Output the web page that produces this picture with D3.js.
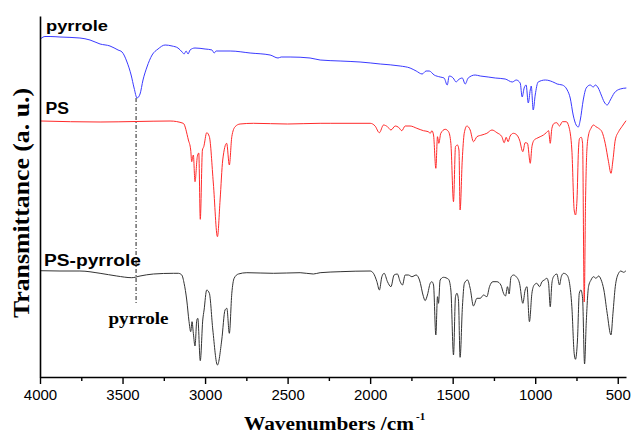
<!DOCTYPE html>
<html>
<head>
<meta charset="utf-8">
<script src="https://cdn.jsdelivr.net/npm/d3@7"></script>
<style>
  html, body { margin: 0; padding: 0; background: #fff; }
  svg { display: block; }
</style>
</head>
<body>
<svg id="chart" width="631" height="434"></svg>
<script>
// ---- data (wavenumber cm^-1, transmittance a.u. with stacking offset) ----
const seriesNames = ["pyrrole", "PS", "PS-pyrrole"];
const seriesColors = ["#3a3aff", "#ff2a2a", "#333333"];

const pyrrole = [[3994,338.5],[3970,340.5],[3939,340.5],[3879,340],[3758,339],[3697,337],[3636,333],[3576,331],[3527,327],[3503,325],[3473,315],[3448,302],[3430,289],[3412,279],[3394,283],[3376,297],[3352,310],[3321,322],[3285,328],[3242,332],[3200,331],[3164,329],[3139,325],[3127,323],[3115,326],[3103,323],[3091,327],[3061,329],[3000,328],[2958,327],[2945,324],[2933,326],[2848,326],[2727,324],[2606,322],[2558,319],[2539,320],[2485,320],[2364,319],[2303,317],[2182,316],[2061,315],[1939,313],[1818,311],[1758,309],[1721,306],[1685,303],[1661,306],[1642,306],[1612,302],[1576,300],[1552,299],[1533,292],[1521,301],[1497,299],[1479,295],[1467,297],[1442,299],[1424,293],[1406,299],[1364,302],[1333,301],[1285,300],[1242,299],[1182,298],[1139,295],[1115,297],[1091,294],[1079,280],[1067,289],[1055,292],[1042,274],[1030,287],[1024,291],[1012,267],[1000,282],[982,295],[939,297],[879,294],[867,293],[836,292],[806,287],[788,279],[770,262],[752,252],[739,250],[727,257],[709,277],[691,289],[667,292],[648,290],[636,292],[618,289],[600,282],[582,275],[564,272],[545,277],[521,284],[485,288],[448,289]];

const ps = [[3994,256],[3636,255],[3418,255.5],[3212,256],[3132,253.7],[3101,237],[3087,227],[3081,215.3],[3071,222],[3061,195.3],[3047,220.3],[3038,224],[3029,157.7],[3016,227],[3008,230.3],[2990,244.3],[2974,240.3],[2950,194],[2925,140.3],[2909,177],[2893,217],[2869,233.7],[2853,212],[2838,240.3],[2818,250.3],[2788,253],[2707,253.7],[2500,253],[2303,253.7],[2242,253.7],[2000,253.7],[1970,251],[1944,244.3],[1919,252],[1895,250.3],[1874,247],[1848,251],[1828,249.7],[1808,246.3],[1788,251],[1758,251],[1717,248.7],[1677,246.3],[1647,245.3],[1636,243.7],[1626,246.3],[1616,242],[1602,208.7],[1592,240.3],[1584,233.7],[1572,243.7],[1545,247.7],[1525,245.3],[1511,233.7],[1495,175.3],[1483,230.3],[1471,232],[1462,227],[1455,167],[1442,217],[1430,243.7],[1414,251],[1394,247],[1374,235.3],[1353,240.3],[1323,242],[1293,243.7],[1262,247],[1232,244.3],[1202,240.3],[1188,234.3],[1176,239.7],[1164,235.3],[1152,241],[1132,243.7],[1111,242],[1095,237],[1075,225.3],[1061,234.3],[1047,233.7],[1030,213.7],[1020,230.3],[1006,237],[990,238.7],[970,240.3],[950,242],[933,244.3],[919,246.3],[909,233.7],[899,248.7],[885,253.7],[869,254.3],[853,251],[835,255.3],[812,255.3],[796,250.3],[778,227],[764,167],[756,162],[747,177],[738,227],[731,238.7],[721,239.7],[713,233.7],[703,75],[695,177],[687,227],[677,242],[662,248.7],[647,252],[632,250.3],[616,248.7],[596,245.3],[576,233.7],[556,215.3],[541,203.7],[529,217],[515,237],[495,245.3],[475,250.3],[450,256.3]];

const psPyrrole = [[4000,106.3],[3879,106],[3758,106],[3636,103.7],[3535,101],[3444,99.3],[3394,101],[3313,103],[3192,103.7],[3162,103.7],[3141,102],[3127,93.7],[3111,77],[3097,55.3],[3087,45.3],[3079,55.3],[3071,43.7],[3061,31],[3050,57],[3044,58.7],[3029,16.3],[3014,57],[3006,67],[2990,87],[2974,83.7],[2953,47],[2925,12],[2899,37],[2879,67],[2868,68.7],[2853,43.7],[2838,83.7],[2824,98.7],[2798,103],[2747,104.3],[2586,103.7],[2424,104.3],[2344,103],[2303,104.3],[2182,105.3],[2000,106],[1980,103.7],[1959,95.3],[1944,87],[1929,100.3],[1915,103.7],[1895,95.3],[1874,90.3],[1855,102],[1835,103],[1818,95.3],[1804,92],[1788,102],[1768,102],[1747,100.3],[1721,102],[1701,97],[1677,80.3],[1667,76.3],[1653,82],[1636,93.7],[1626,95.3],[1616,92],[1602,42],[1592,80.3],[1586,73.7],[1576,97],[1556,99.7],[1525,97.7],[1511,87],[1495,22],[1483,80.3],[1474,83.7],[1465,77],[1455,19.7],[1441,70.3],[1429,93.7],[1410,97],[1394,88.7],[1374,71],[1353,78.7],[1333,78.7],[1313,82],[1293,80.3],[1277,90.3],[1256,95.3],[1232,95.3],[1208,92],[1192,83.7],[1180,81],[1168,90.3],[1158,83],[1147,99.7],[1132,102],[1115,100.3],[1095,93.7],[1075,73.7],[1061,87],[1050,90.3],[1035,55.3],[1020,83.7],[1006,92],[990,93.7],[974,90.3],[959,95.3],[945,97],[929,98.7],[919,93.7],[909,70.3],[899,93.7],[889,100.3],[869,103],[853,92],[842,100.3],[828,103.7],[808,102],[792,93.7],[778,70.3],[764,23.7],[756,17.7],[744,37],[733,83.7],[723,87],[713,78.7],[701,13],[691,53.7],[677,90.3],[662,97],[647,100.3],[632,98.7],[616,101],[602,97.7],[584,87],[564,63.7],[541,42],[529,63.7],[515,90.3],[495,103.7],[481,106],[465,104.7],[450,106.3]];

// series labels
const labelTexts = ["pyrrole", "PS", "PS-pyrrole"];
// x axis
const majorTicks = [4000, 3500, 3000, 2500, 2000, 1500, 1000, 500];
const minorTicks = [3750, 3250, 2750, 2250, 1750, 1250, 750];
const xDomain = [4000, 450];
const yDomain = [0, 362];
// annotation for the pyrrole N-H band
const markerWn = 3418;
const markerTop = 279;
const markerBottom = 74;
const markerLabel = "pyrrole";
const xTitle = "Wavenumbers /cm";
const xTitleSup = "-1";
const yTitle = "Transmittance (a. u.)";

// ---- drawing ----
const svg = d3.select("#chart");
const plotLeft = 40, plotRight = 626, plotTop = 16, plotBottom = 377;

const x = d3.scaleLinear().domain(xDomain).range([plotLeft, plotRight]);
const y = d3.scaleLinear().domain(yDomain).range([plotBottom, 15]);

const line = d3.line()
  .x(d => x(d[0]))
  .y(d => y(d[1]))
  .curve(d3.curveMonotoneX);

const allSeries = [pyrrole, ps, psPyrrole];
allSeries.forEach((s, i) => {
  svg.append("path")
    .datum(s)
    .attr("d", line)
    .attr("fill", "none")
    .attr("stroke", seriesColors[i])
    .attr("stroke-width", 1)
    .attr("stroke-linejoin", "round");
});

// dash-dot marker
svg.append("line")
  .attr("x1", x(markerWn)).attr("x2", x(markerWn))
  .attr("y1", y(markerTop)).attr("y2", y(markerBottom))
  .attr("stroke", "#222")
  .attr("stroke-width", 1)
  .attr("stroke-dasharray", "4,2,1,2");

// axes
const xAxis = d3.axisBottom(x).tickValues(majorTicks).tickSize(7).tickSizeOuter(0).tickFormat(d3.format("d"));
const gx = svg.append("g").attr("transform", `translate(0,${plotBottom})`).call(xAxis);
gx.select(".domain").attr("stroke", "#000").attr("stroke-width", 1.6);
gx.selectAll(".tick line").attr("stroke", "#000").attr("stroke-width", 1.4);
gx.selectAll(".tick text")
  .attr("font-family", "Liberation Sans, Arial, sans-serif")
  .attr("font-size", 15)
  .attr("fill", "#000")
  .attr("y", 12)
  .attr("dy", "0.71em");

const xMinor = d3.axisBottom(x).tickValues(minorTicks).tickSize(4).tickSizeOuter(0).tickFormat("");
const gm = svg.append("g").attr("transform", `translate(0,${plotBottom})`).call(xMinor);
gm.select(".domain").remove();
gm.selectAll(".tick line").attr("stroke", "#000").attr("stroke-width", 1.4);

// y axis line (no ticks)
const yAxis = d3.axisLeft(d3.scaleLinear().domain([0, 1]).range([plotBottom, plotTop])).tickValues([]).tickSizeOuter(0);
const gy = svg.append("g").attr("transform", `translate(${plotLeft},0)`).call(yAxis);
gy.select(".domain").attr("stroke", "#000").attr("stroke-width", 1.6);

// series labels
const sans = "Liberation Sans, Arial, sans-serif";
const serif = "Liberation Serif, Times New Roman, serif";
const labelPos = [[46, 30.5, 62, 15], [45.5, 113.5, 23.5, 16], [44, 266, 97, 16]];
labelTexts.forEach((t, i) => {
  const p = labelPos[i];
  svg.append("text")
    .attr("x", p[0]).attr("y", p[1])
    .attr("font-family", sans)
    .attr("font-weight", "bold")
    .attr("font-size", p[3])
    .attr("textLength", p[2])
    .attr("lengthAdjust", "spacingAndGlyphs")
    .attr("fill", "#000")
    .text(t);
});

// annotation label
svg.append("text")
  .attr("x", 108.5).attr("y", 323.5)
  .attr("font-family", serif)
  .attr("font-weight", "bold")
  .attr("font-size", 17)
  .attr("textLength", 60)
  .attr("lengthAdjust", "spacingAndGlyphs")
  .attr("fill", "#000")
  .text(markerLabel);

// x title
svg.append("text")
  .attr("x", 244).attr("y", 429.5)
  .attr("font-family", serif)
  .attr("font-weight", "bold")
  .attr("font-size", 18)
  .attr("textLength", 170)
  .attr("lengthAdjust", "spacingAndGlyphs")
  .attr("fill", "#000")
  .text(xTitle);
svg.append("text")
  .attr("x", 416).attr("y", 420)
  .attr("font-family", serif)
  .attr("font-weight", "bold")
  .attr("font-size", 11)
  .attr("fill", "#000")
  .text(xTitleSup);

// y title
svg.append("text")
  .attr("transform", "translate(28.5,203) rotate(-90)")
  .attr("text-anchor", "middle")
  .attr("font-family", serif)
  .attr("font-weight", "bold")
  .attr("font-size", 24)
  .attr("textLength", 230)
  .attr("lengthAdjust", "spacingAndGlyphs")
  .attr("fill", "#000")
  .text(yTitle);
</script>
</body>
</html>
